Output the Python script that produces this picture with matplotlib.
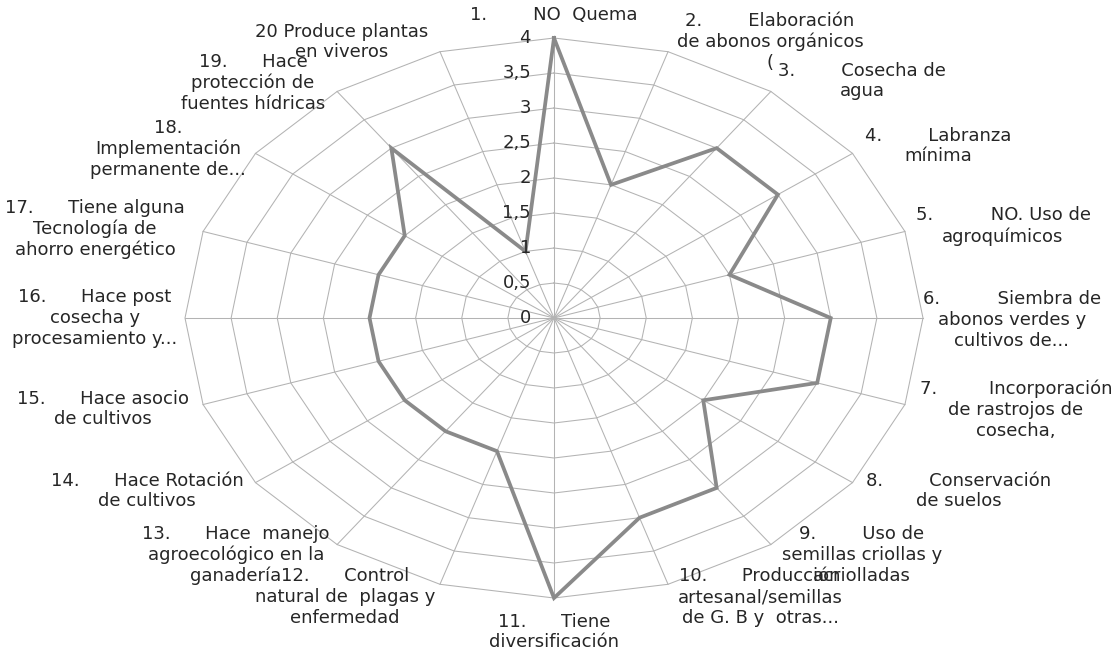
import matplotlib.pyplot as plt
import numpy as np

# values (scale 0 - 4)
categories = [
    "1.        NO  Quema",
    "2.        Elaboración\nde abonos orgánicos\n(",
    "3.        Cosecha de\nagua",
    "4.        Labranza\nmínima",
    "5.          NO. Uso de\nagroquímicos",
    "6.          Siembra de\nabonos verdes y\ncultivos de...",
    "7.         Incorporación\nde rastrojos de\ncosecha,",
    "8.        Conservación\nde suelos",
    "9.        Uso de\nsemillas criollas y\nacriolladas",
    "10.      Producción\nartesanal/semillas\nde G. B y  otras...",
    "11.      Tiene\ndiversificación",
    "12.      Control\nnatural de  plagas y\nenfermedad",
    "13.      Hace  manejo\nagroecológico en la\nganadería",
    "14.      Hace Rotación\nde cultivos",
    "15.      Hace asocio\nde cultivos",
    "16.      Hace post\ncosecha y\nprocesamiento y...",
    "17.      Tiene alguna\nTecnología de\nahorro energético",
    "18.\nImplementación\npermanente de...",
    "19.      Hace\nprotección de\nfuentes hídricas",
    "20 Produce plantas\nen viveros",
]
values = [4, 2, 3, 3, 2, 3, 3, 2, 3, 3, 4, 2, 2, 2, 2, 2, 2, 2, 3, 1]
ring_levels = [0, 0.5, 1, 1.5, 2, 2.5, 3, 3.5, 4]
ring_labels = ["0", "0,5", "1", "1,5", "2", "2,5", "3", "3,5", "4"]

# label block centres in pixels (layout only)
label_pos = [(554, 15), (770, 42), (862, 81), (938, 146), (1003, 226),
             (1012, 320), (1016, 410), (959, 491), (862, 555), (760, 597),
             (554, 632), (345, 597), (236, 555), (147, 491), (103, 409),
             (95, 318), (95, 229), (168, 149), (253, 83), (342, 42)]

W, H = 1116, 651
fig = plt.figure(figsize=(W / 100, H / 100), dpi=100)
ax = fig.add_axes([0, 0, 1, 1])
ax.set_axis_off()

# centre at pixel (554, 318); 4 units = 369 px wide, 280 px tall
sx, sy = 369 / 4, 280 / 4
ax.set_xlim(-554 / sx, (W - 554) / sx)
ax.set_ylim(-(H - 318) / sy, 318 / sy)

n = len(values)
theta = np.arange(n) * 2 * np.pi / n
grid_col = "#b3b3b3"

# polygon rings
for lv in ring_levels[1:]:
    t = np.append(theta, theta[0])
    ax.plot(lv * np.sin(t), lv * np.cos(t), color=grid_col, lw=0.75, zorder=1)

# spokes
rmax = ring_levels[-1]
for t in theta:
    ax.plot([0, rmax * np.sin(t)], [0, rmax * np.cos(t)], color=grid_col, lw=0.75, zorder=1)

# data line
v = np.append(values, values[0])
t = np.append(theta, theta[0])
ax.plot(v * np.sin(t), v * np.cos(t), color="#8a8a8a", lw=2.7, zorder=3,
        solid_joinstyle="miter")

txt_col = "#262626"
# radial tick labels on the first spoke
for lv, lab in zip(ring_levels, ring_labels):
    ax.text(-23 / sx, lv, lab, ha="right", va="center", fontsize=13, color=txt_col)

# category labels
for lab, (px, py) in zip(categories, label_pos):
    fig.text(px / W, 1 - py / H, lab, ha="center", va="center", multialignment="center",
             fontsize=13, color=txt_col, linespacing=1.2)

fig.savefig("out.png", dpi=100, facecolor="white")
